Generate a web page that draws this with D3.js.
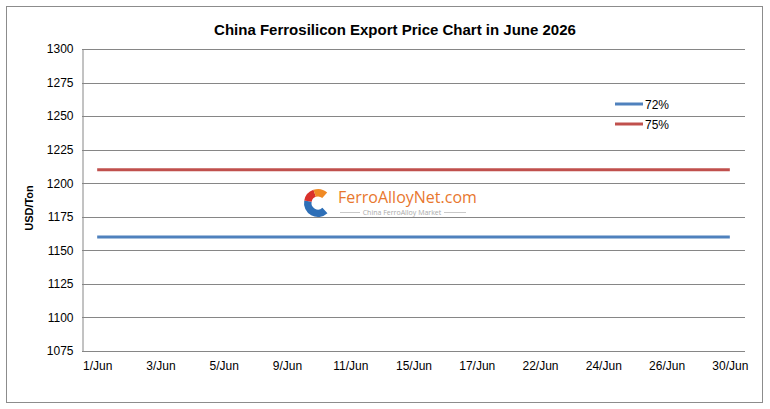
<!DOCTYPE html>
<html>
<head>
<meta charset="utf-8">
<script src="https://cdn.jsdelivr.net/npm/d3@7"></script>
<style>
  body { margin: 0; background: #fff; }
  text { font-family: "Liberation Sans", Arial, sans-serif; }
</style>
</head>
<body>
<svg id="chart" width="770" height="409"></svg>
<script>
const days = ['1/Jun', '3/Jun', '5/Jun', '9/Jun', '11/Jun', '15/Jun', '17/Jun', '22/Jun', '24/Jun', '26/Jun', '30/Jun'];
const price72 = [1160, 1160, 1160, 1160, 1160, 1160, 1160, 1160, 1160, 1160, 1160];
const price75 = [1210, 1210, 1210, 1210, 1210, 1210, 1210, 1210, 1210, 1210, 1210];
const seriesNames = ['72%', '75%'];
const yTicks = [1075, 1100, 1125, 1150, 1175, 1200, 1225, 1250, 1275, 1300];

const colors = ['#4f81bd', '#c0504d'];
const plot = {left: 82, right: 745, top: 49, bottom: 351};

const svg = d3.select('#chart');

// outer frame
svg.append('rect')
    .attr('x', 6.5).attr('y', 6.5)
    .attr('width', 756).attr('height', 396)
    .attr('fill', '#fff')
    .attr('stroke', '#8c8c8c')
    .attr('stroke-width', 1);

svg.append('text')
    .attr('x', 395).attr('y', 35)
    .attr('text-anchor', 'middle')
    .style('font-size', '15px')
    .style('font-weight', 'bold')
    .text('China Ferrosilicon Export Price Chart in June 2026');

const x = d3.scalePoint()
    .domain(days)
    .range([plot.left, plot.right])
    .padding(0.24);

const y = d3.scaleLinear()
    .domain([1075, 1300])
    .range([plot.bottom, plot.top]);

// gridlines
svg.append('g')
    .selectAll('line')
    .data(yTicks)
    .join('line')
    .attr('x1', plot.left).attr('x2', plot.right)
    .attr('y1', d => Math.round(y(d)) + 0.5)
    .attr('y2', d => Math.round(y(d)) + 0.5)
    .attr('stroke', '#868686')
    .attr('stroke-width', 1);

// y axis
const yAxis = svg.append('g')
    .attr('transform', `translate(${plot.left + 0.5},0)`)
    .call(d3.axisLeft(y).tickValues(yTicks).tickSize(0).tickPadding(9).tickFormat(d3.format('d')));
yAxis.select('.domain').attr('stroke', '#868686');
yAxis.selectAll('text')
    .style('font-size', '12px')
    .attr('fill', '#000');

// x axis
const xAxis = svg.append('g')
    .attr('transform', `translate(0,${Math.round(y(1075)) + 0.5})`)
    .call(d3.axisBottom(x).tickSize(0).tickPadding(10));
xAxis.select('.domain').remove();
xAxis.selectAll('text')
    .style('font-size', '12px')
    .attr('fill', '#000');

svg.append('text')
    .attr('transform', 'translate(33,208) rotate(-90)')
    .attr('text-anchor', 'middle')
    .style('font-size', '11px')
    .style('font-weight', 'bold')
    .text('USD/Ton');

// watermark logo: a "C" opening to the right
const wm = svg.append('g');
const logoC = [318, 203];
const arc = d3.arc().innerRadius(6.5).outerRadius(14);
[[2.4, 4.9, '#2e6fb7'], [4.9, 5.95, '#d9312b'], [5.95, 7.0, '#f08a24']].forEach(([a0, a1, c]) => {
  wm.append('path')
      .attr('transform', `translate(${logoC[0]},${logoC[1]})`)
      .attr('d', arc({startAngle: a0, endAngle: a1}))
      .attr('fill', c);
});
wm.append('text')
    .attr('x', 338).attr('y', 203)
    .style('font-size', '16px')
    .style('font-family', '"Open Sans", sans-serif')
    .attr('fill', '#e8772e')
    .text('FerroAlloyNet.com');
wm.append('text')
    .attr('x', 402).attr('y', 215)
    .attr('text-anchor', 'middle')
    .style('font-size', '7px')
    .style('font-family', '"Open Sans", sans-serif')
    .attr('fill', '#aaa')
    .text('China FerroAlloy Market');
[[340, 360], [444, 466]].forEach(([a, b]) => {
  wm.append('line').attr('x1', a).attr('x2', b).attr('y1', 212.5).attr('y2', 212.5)
      .attr('stroke', '#bbb').attr('stroke-width', 0.8);
});

// series lines
const line = d3.line().x((d, i) => x(days[i])).y(d => y(d));
[price72, price75].forEach((vals, i) => {
  svg.append('path')
      .datum(vals)
      .attr('d', line)
      .attr('fill', 'none')
      .attr('stroke', colors[i])
      .attr('stroke-width', 3);
});

// legend
const legend = svg.append('g');
seriesNames.forEach((name, i) => {
  const ly = 104 + i * 20;
  legend.append('line')
      .attr('x1', 615).attr('x2', 643)
      .attr('y1', ly).attr('y2', ly)
      .attr('stroke', colors[i])
      .attr('stroke-width', 3);
  legend.append('text')
      .attr('x', 645).attr('y', ly + 4.5)
      .style('font-size', '12px')
      .text(name);
});
</script>
</body>
</html>
